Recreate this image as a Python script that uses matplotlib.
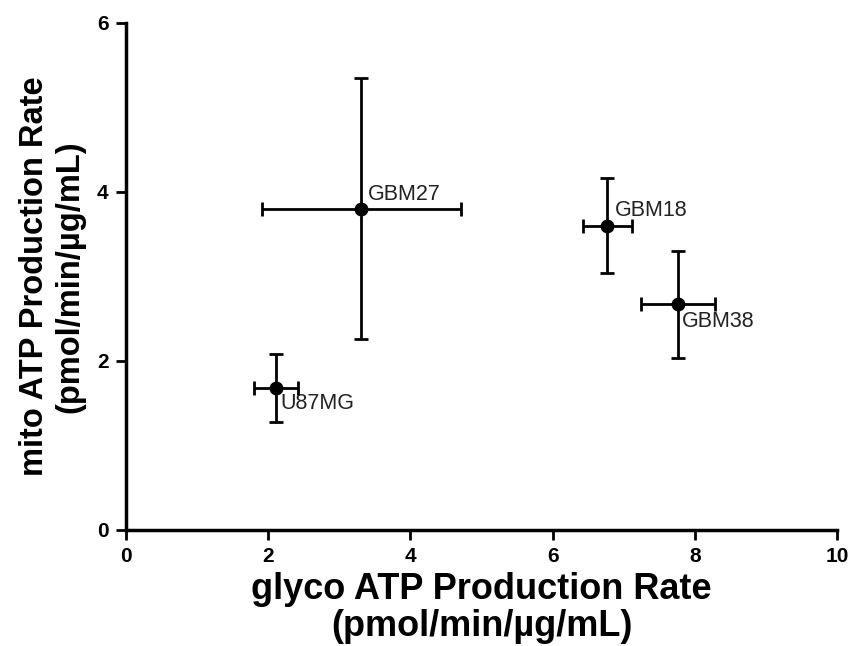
import matplotlib
matplotlib.use("Agg")
import matplotlib.pyplot as plt

cell_lines = ["U87MG", "GBM27", "GBM18", "GBM38"]
glyco = [2.11, 3.31, 6.77, 7.76]
glyco_err = [0.31, 1.40, 0.34, 0.52]
mito = [1.68, 3.80, 3.60, 2.67]
mito_err = [0.40, 1.54, 0.56, 0.635]
# label offsets in points (dx, dy) and vertical alignment
label_pos = {"U87MG": (3, -4, "top"), "GBM27": (5, 3, "bottom"),
             "GBM18": (5, 3, "bottom"), "GBM38": (3, -5, "top")}

x_ticks = [0, 2, 4, 6, 8, 10]
y_ticks = [0, 2, 4, 6]

plt.rcParams['font.family'] = ['Liberation Sans', 'DejaVu Sans']

fig = plt.figure(figsize=(8.5, 6.46), dpi=100)
ax = fig.add_axes([0.148, 0.1796, 0.837, 0.7853])

ax.errorbar(glyco, mito, xerr=glyco_err, yerr=mito_err, fmt='o', color='black',
            markersize=9, elinewidth=2, capsize=5, capthick=2)

for name, x, y in zip(cell_lines, glyco, mito):
    dx, dy, va = label_pos[name]
    ax.annotate(name, (x, y), xytext=(dx, dy), textcoords='offset points',
                ha='left', va=va, fontsize=15.5, color='#222222')

ax.set_xlim(0, 10)
ax.set_ylim(0, 6)
ax.set_xticks(x_ticks)
ax.set_yticks(y_ticks)
ax.set_xticklabels([str(t) for t in x_ticks], fontsize=15, fontweight='bold')
ax.set_yticklabels([str(t) for t in y_ticks], fontsize=15, fontweight='bold')
ax.tick_params(width=2, length=7.5, direction='out', pad=5)

for s in ['top', 'right']:
    ax.spines[s].set_visible(False)
for s in ['left', 'bottom']:
    ax.spines[s].set_linewidth(2.5)

ax.set_xlabel("glyco ATP Production Rate\n(pmol/min/µg/mL)", fontsize=26,
              fontweight='bold', labelpad=4, linespacing=1.08)
ax.set_ylabel("mito ATP Production Rate\n(pmol/min/µg/mL)", fontsize=23.5,
              fontweight='bold', labelpad=8, linespacing=1.2)

fig.savefig("out.png", dpi=100)
